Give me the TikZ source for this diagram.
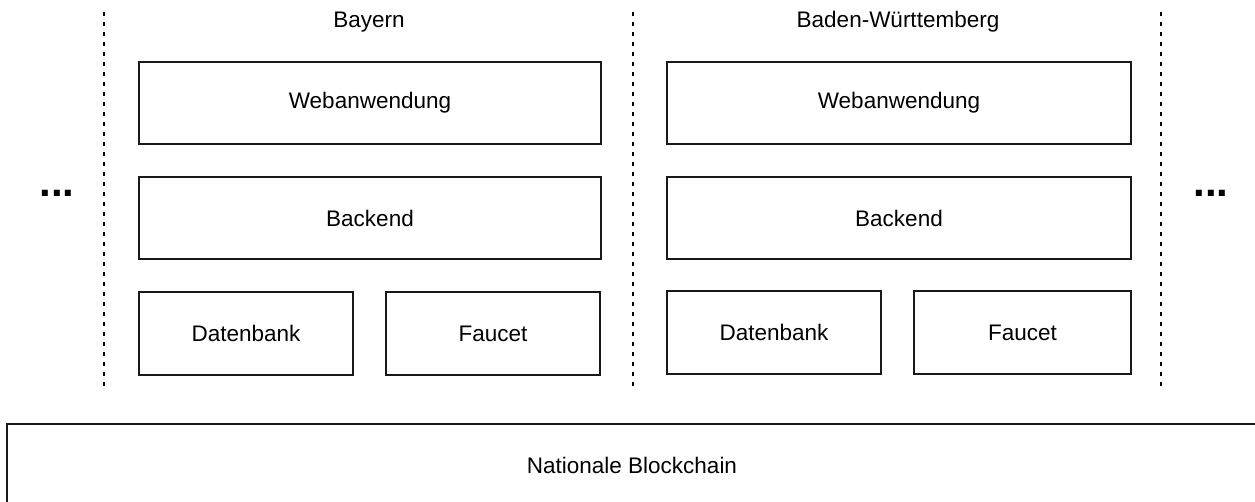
\documentclass[tikz,border=0pt]{standalone}
\usepackage{fontspec}
\setmainfont{Liberation Sans}
\begin{document}
\begin{tikzpicture}[x=1pt,y=-1pt,
  box/.style={draw=black!90, line width=1.4pt, rectangle, inner sep=0pt,
    font=\fontsize{22.5}{27}\selectfont},
  wide/.style={box, minimum width=462pt, minimum height=82pt},
  half/.style={box, minimum width=214pt, minimum height=83pt},
  region/.style={font=\fontsize{22.5}{27}\selectfont, anchor=base, inner sep=0pt},
  more/.style={font=\fontsize{42}{50}\selectfont\bfseries, inner sep=0pt},
  divider/.style={line width=1.3pt, dash pattern=on 4pt off 6pt}]
  \useasboundingbox (0,0) rectangle (1255,502);

  % separators between the federal states
  \coordinate (d1t) at (104,12);  \coordinate (d1b) at (104,388);
  \coordinate (d2t) at (633,12);  \coordinate (d2b) at (633,390);
  \coordinate (d3t) at (1161,12); \coordinate (d3b) at (1161,388);
  \draw[divider] (d1t) -- (d1b);
  \draw[divider] (d2t) -- (d2b);
  \draw[divider] (d3t) -- (d3b);

  % Bayern
  \node[region] (by) at (369,28) {Bayern};
  \node[wide] (webL) at (370,103) {Webanwendung};
  \node[wide] (backL) at (370,218) {Backend};
  \node[half] (dbL) at (246,333.5) {Datenbank};
  \node[half] (fcL) at (493,333.5) {Faucet};

  % Baden-Wuerttemberg
  \node[region] (bw) at (898,28) {Baden-Württemberg};
  \node[wide, minimum width=464pt] (webR) at (899,103) {Webanwendung};
  \node[wide, minimum width=464pt] (backR) at (899,218) {Backend};
  \node[half] (dbR) at (774,332.5) {Datenbank};
  \node[half, minimum width=217pt] (fcR) at (1022.5,332.5) {Faucet};

  % further states
  \node[more] (moreL) at (57,193) {...};
  \node[more] (moreR) at (1211,193) {...};

  % shared chain
  \node[box, minimum width=1250pt, minimum height=82pt] (chain) at (632,465) {Nationale Blockchain};
\end{tikzpicture}
\end{document}
